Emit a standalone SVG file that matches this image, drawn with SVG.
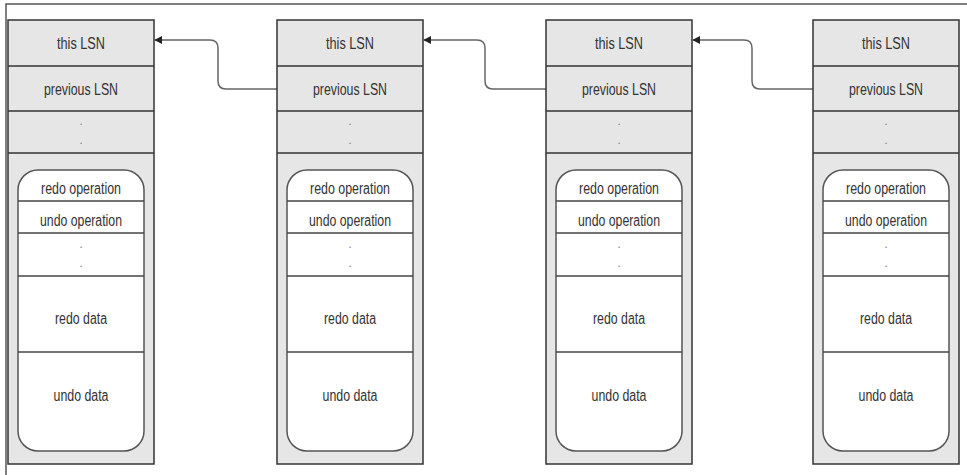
<svg xmlns="http://www.w3.org/2000/svg" width="967" height="475" viewBox="0 0 967 475">
<defs>
<style>
.box{fill:#e6e6e6;stroke:#333;stroke-width:1.5}
.row{stroke:#333;stroke-width:1.5}
.inner{fill:#fff;stroke:#555;stroke-width:1.5}
.iline{stroke:#444;stroke-width:1.5}
.t{font-family:"Liberation Sans Narrow","Liberation Sans",Arial,sans-serif;font-size:16px;fill:#333;text-anchor:middle}
.d{font-family:"Liberation Sans",Arial,sans-serif;font-size:13px;fill:#888;text-anchor:middle}
.conn{fill:none;stroke:#666;stroke-width:1.5}
.frame{fill:none;stroke:#555;stroke-width:1.5}
</style>
<marker id="arr" viewBox="0 0 10 10" refX="9" refY="5" markerWidth="8" markerHeight="8" markerUnits="userSpaceOnUse" orient="auto">
<path d="M0,0 L10,5 L0,10 z" fill="#222"/>
</marker>
<g id="rec">
<rect class="box" x="0" y="20" width="146" height="444"/>
<line class="row" x1="0" y1="66" x2="146" y2="66"/>
<line class="row" x1="0" y1="111" x2="146" y2="111"/>
<line class="row" x1="0" y1="153" x2="146" y2="153"/>
<rect class="inner" x="10" y="170" width="126" height="281" rx="20" ry="20"/>
<line class="iline" x1="10" y1="201" x2="136" y2="201"/>
<line class="iline" x1="10" y1="233" x2="136" y2="233"/>
<line class="iline" x1="10" y1="276" x2="136" y2="276"/>
<line class="iline" x1="10" y1="352" x2="136" y2="352"/>
</g>
</defs>
<path class="frame" d="M6,475 V4 H967"/>
<g id="connectors">
<path class="conn" marker-end="url(#arr)" d="M277,89 H226 Q218,89 218,81 V48 Q218,40 210,40 H155"/>
<path class="conn" marker-end="url(#arr)" d="M547,89 H493 Q485,89 485,81 V48 Q485,40 477,40 H424"/>
<path class="conn" marker-end="url(#arr)" d="M813,89 H760 Q752,89 752,81 V48 Q752,40 744,40 H693"/>
</g>
<g id="log1" transform="translate(8,0)">
<use href="#rec"/>
<text class="t" x="73" y="49" textLength="48" lengthAdjust="spacingAndGlyphs">this LSN</text>
<text class="t" x="73" y="95" textLength="74" lengthAdjust="spacingAndGlyphs">previous LSN</text>
<text class="d" x="73" y="125">.</text><text class="d" x="73" y="144">.</text>
<text class="t" x="73" y="194" textLength="80" lengthAdjust="spacingAndGlyphs">redo operation</text>
<text class="t" x="73" y="226" textLength="82" lengthAdjust="spacingAndGlyphs">undo operation</text>
<text class="d" x="73" y="248">.</text><text class="d" x="73" y="267">.</text>
<text class="t" x="73" y="324" textLength="52" lengthAdjust="spacingAndGlyphs">redo data</text>
<text class="t" x="73" y="401" textLength="55" lengthAdjust="spacingAndGlyphs">undo data</text>
</g>
<g id="log2" transform="translate(277,0)">
<use href="#rec"/>
<text class="t" x="73" y="49" textLength="48" lengthAdjust="spacingAndGlyphs">this LSN</text>
<text class="t" x="73" y="95" textLength="74" lengthAdjust="spacingAndGlyphs">previous LSN</text>
<text class="d" x="73" y="125">.</text><text class="d" x="73" y="144">.</text>
<text class="t" x="73" y="194" textLength="80" lengthAdjust="spacingAndGlyphs">redo operation</text>
<text class="t" x="73" y="226" textLength="82" lengthAdjust="spacingAndGlyphs">undo operation</text>
<text class="d" x="73" y="248">.</text><text class="d" x="73" y="267">.</text>
<text class="t" x="73" y="324" textLength="52" lengthAdjust="spacingAndGlyphs">redo data</text>
<text class="t" x="73" y="401" textLength="55" lengthAdjust="spacingAndGlyphs">undo data</text>
</g>
<g id="log3" transform="translate(546,0)">
<use href="#rec"/>
<text class="t" x="73" y="49" textLength="48" lengthAdjust="spacingAndGlyphs">this LSN</text>
<text class="t" x="73" y="95" textLength="74" lengthAdjust="spacingAndGlyphs">previous LSN</text>
<text class="d" x="73" y="125">.</text><text class="d" x="73" y="144">.</text>
<text class="t" x="73" y="194" textLength="80" lengthAdjust="spacingAndGlyphs">redo operation</text>
<text class="t" x="73" y="226" textLength="82" lengthAdjust="spacingAndGlyphs">undo operation</text>
<text class="d" x="73" y="248">.</text><text class="d" x="73" y="267">.</text>
<text class="t" x="73" y="324" textLength="52" lengthAdjust="spacingAndGlyphs">redo data</text>
<text class="t" x="73" y="401" textLength="55" lengthAdjust="spacingAndGlyphs">undo data</text>
</g>
<g id="log4" transform="translate(813,0)">
<use href="#rec"/>
<text class="t" x="73" y="49" textLength="48" lengthAdjust="spacingAndGlyphs">this LSN</text>
<text class="t" x="73" y="95" textLength="74" lengthAdjust="spacingAndGlyphs">previous LSN</text>
<text class="d" x="73" y="125">.</text><text class="d" x="73" y="144">.</text>
<text class="t" x="73" y="194" textLength="80" lengthAdjust="spacingAndGlyphs">redo operation</text>
<text class="t" x="73" y="226" textLength="82" lengthAdjust="spacingAndGlyphs">undo operation</text>
<text class="d" x="73" y="248">.</text><text class="d" x="73" y="267">.</text>
<text class="t" x="73" y="324" textLength="52" lengthAdjust="spacingAndGlyphs">redo data</text>
<text class="t" x="73" y="401" textLength="55" lengthAdjust="spacingAndGlyphs">undo data</text>
</g>
</svg>
